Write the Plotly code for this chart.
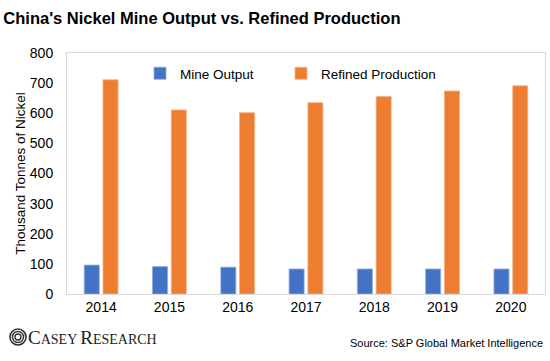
import plotly.graph_objects as go

years = ["2014", "2015", "2016", "2017", "2018", "2019", "2020"]
mine_output = [96, 91, 89, 83, 83, 83, 83]
refined_production = [711, 611, 602, 635, 656, 674, 691]
y_ticks = [0, 100, 200, 300, 400, 500, 600, 700, 800]

BLUE = "#4472C4"
ORANGE = "#ED7D31"
FONT = "Liberation Sans, Arial, sans-serif"

fig = go.Figure()
fig.add_trace(go.Bar(x=years, y=mine_output, name="Mine Output", legend="legend",
                     marker=dict(color=BLUE, line=dict(color="#8FAADC", width=0.8))))
fig.add_trace(go.Bar(x=years, y=refined_production, name="Refined Production", legend="legend2",
                     marker=dict(color=ORANGE, line=dict(color="#F4B183", width=0.8))))

leg_common = dict(orientation="h", xanchor="left", yanchor="middle",
                  bgcolor="rgba(0,0,0,0)", font=dict(size=13.5), itemwidth=30)

fig.update_layout(
    width=550, height=361,
    margin=dict(l=67, r=5, t=53, b=67),
    paper_bgcolor="white", plot_bgcolor="white",
    barmode="group", bargap=0.45, bargroupgap=0.2,
    font=dict(family=FONT, size=14, color="#000000"),
    showlegend=True,
    legend=dict(x=(140 - 67) / 478, y=0.915, **leg_common),
    legend2=dict(x=(281 - 67) / 478, y=0.915, **leg_common),
    title=dict(text="<b>China's Nickel Mine Output vs. Refined Production</b>",
               x=0.006, xanchor="left", y=0.95, yanchor="middle",
               font=dict(family=FONT, size=16.5, color="#000")),
    xaxis=dict(showline=True, mirror=True, linecolor="#D9D9D9", linewidth=1,
               showgrid=False, ticks="", tickfont=dict(size=14)),
    yaxis=dict(range=[0, 800], tickvals=y_ticks, showline=True, mirror=True,
               linecolor="#D9D9D9", linewidth=1, showgrid=False, zeroline=False,
               ticks="outside", ticklen=10, tickcolor="rgba(0,0,0,0)",
               tickfont=dict(size=14),
               title=dict(text="Thousand Tonnes of Nickel", font=dict(size=13.5), standoff=1)),
)

fig.add_annotation(text="Source: S&P Global Market Intelligence", xref="paper", yref="paper",
                   x=1.0, y=-0.205, xanchor="right", yanchor="middle", showarrow=False,
                   font=dict(size=11, color="#000"))

fig.add_annotation(text="<span style='font-size:19px'>C</span>ASEY <span style='font-size:19px'>R</span>ESEARCH",
                   xref="paper", yref="paper", x=-0.085, y=-0.18, xanchor="left", yanchor="middle",
                   showarrow=False, font=dict(family="Liberation Serif, Times New Roman, serif", size=14, color="#222"))

# logo emblem: concentric rings
for r, w in [(8, 1.6), (5.5, 1.4), (3, 1.4)]:
    cx, cy = 18, 337
    fig.add_shape(type="circle", xref="paper", yref="paper",
                  x0=(cx - r - 67) / 478, x1=(cx + r - 67) / 478,
                  y0=(294 - (cy + r)) / 241, y1=(294 - (cy - r)) / 241,
                  line=dict(color="#333", width=w))

fig.write_html("out.html", config={"displayModeBar": False},
               post_script="document.body.style.margin='0';document.body.style.padding='0';")
